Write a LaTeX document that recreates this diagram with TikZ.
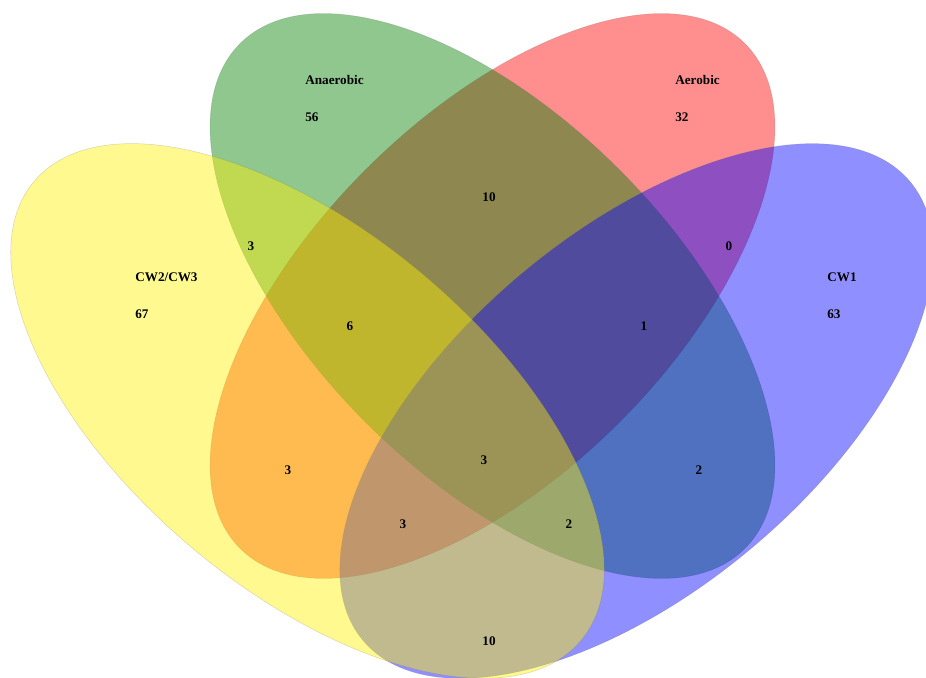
\documentclass[tikz,border=0pt]{standalone}
\usepackage{fontspec}
\setmainfont{Liberation Serif}
\begin{document}
\begin{tikzpicture}[x=0.02cm,y=-0.02cm,
	set/.style={fill opacity=0.44,draw=black!60,draw opacity=0.25,line width=0.3pt},
	lbl/.style={anchor=west,inner sep=0pt,font=\fontsize{7.5}{9}\selectfont\bfseries},
	num/.style={inner sep=0pt,font=\fontsize{7.5}{9}\selectfont\bfseries}]
	\useasboundingbox (0,0) rectangle (926,678);
	\clip (0,0) rectangle (926,678);
	\filldraw[red,set] (492.5,296) ellipse [x radius=357,y radius=179,rotate=45];
	\filldraw[green!50!black,set] (492.5,296) ellipse [x radius=357,y radius=179,rotate=-45];
	\filldraw[blue,set] (636.5,411) ellipse [x radius=357,y radius=179,rotate=40];
	\filldraw[yellow,set] (307.5,411) ellipse [x radius=357,y radius=179,rotate=-40];
	\node[lbl] (anaer) at (305,80) {Anaerobic};
	\node[lbl] (anaerN) at (305,117) {56};
	\node[lbl] (aer) at (675,80) {Aerobic};
	\node[lbl] (aerN) at (675,117) {32};
	\node[lbl] (cwb) at (135,277) {CW2/CW3};
	\node[lbl] (cwbN) at (135,314) {67};
	\node[lbl] (cwa) at (827,277) {CW1};
	\node[lbl] (cwaN) at (827,314) {63};
	\node[num] (ga) at (489,197) {10};
	\node[num] (yg) at (251,246) {3};
	\node[num] (rb) at (729,246) {0};
	\node[num] (ygr) at (350,326) {6};
	\node[num] (gbr) at (644,326) {1};
	\node[num] (yr) at (288,470) {3};
	\node[num] (all) at (484,460) {3};
	\node[num] (gb) at (699,470) {2};
	\node[num] (yrb) at (403,524) {3};
	\node[num] (ygb) at (569,524) {2};
	\node[num] (yb) at (489,641) {10};
\end{tikzpicture}
\end{document}
